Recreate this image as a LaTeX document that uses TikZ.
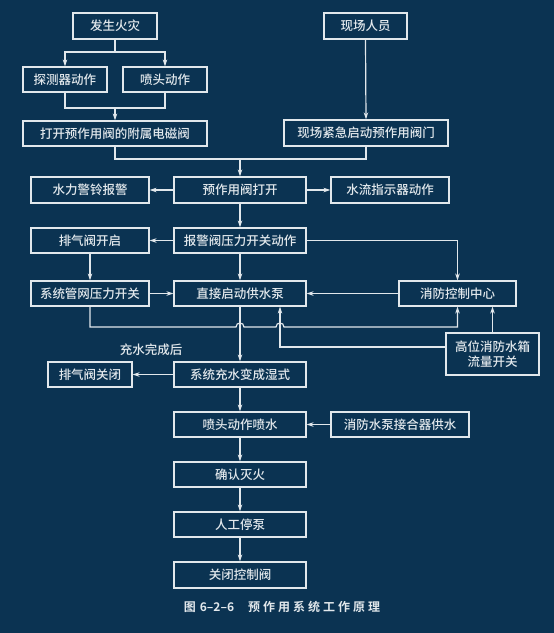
\documentclass[tikz,border=0pt]{standalone}
\usepackage{fontspec}
\setmainfont{Noto Sans CJK SC}
\newfontfamily\cjk{Noto Sans CJK SC}[UprightFont={* Medium},BoldFont={* Bold}]
\usetikzlibrary{arrows.meta}
\definecolor{bg}{RGB}{11,51,82}
\definecolor{ln}{RGB}{226,232,236}
\begin{document}
\begin{tikzpicture}[x=1pt,y=-1pt,
  box/.style={draw=ln,line width=1.2pt,text=ln,font=\cjk\fontsize{12.5}{14}\selectfont,
    minimum height=25pt,inner sep=0pt,align=center},
  con/.style={draw=ln,line width=1.2pt},
  arr/.style={con,-{Stealth[length=7pt,width=4.5pt]}}]
\fill[bg] (0,0) rectangle (554,633);
\useasboundingbox (0,0) rectangle (554,633);
% nodes
\node[box,minimum width=84pt,minimum height=26pt] (fire) at (115,26) {发生火灾};
\node[box,minimum width=84pt] (det) at (65,79.5) {探测器动作};
\node[box,minimum width=84pt] (spr) at (165,79.5) {喷头动作};
\node[box,minimum width=184pt] (sol) at (115,133.5) {打开预作用阀的附属电磁阀};
\node[box,minimum width=83pt,minimum height=26pt] (staff) at (365.5,26) {现场人员};
\node[box,minimum width=164pt,minimum height=26pt] (man) at (366,133) {现场紧急启动预作用阀门};
\node[box,minimum width=132pt,minimum height=26pt] (open) at (240,190) {预作用阀打开};
\node[box,minimum width=118pt,minimum height=26pt] (bell) at (90,190) {水力警铃报警};
\node[box,minimum width=118pt,minimum height=26pt] (flow) at (390,190) {水流指示器动作};
\node[box,minimum width=132pt] (psw) at (240,240.5) {报警阀压力开关动作};
\node[box,minimum width=118pt] (vent) at (90,240.5) {排气阀开启};
\node[box,minimum width=118pt] (net) at (90,293.5) {系统管网压力开关};
\node[box,minimum width=132pt] (pump) at (240,293.5) {直接启动供水泵};
\node[box,minimum width=117pt] (ctrl) at (457.5,293.5) {消防控制中心};
\node[box,minimum width=93pt,minimum height=42pt,font=\cjk\fontsize{12.5}{15.5}\selectfont] (tank) at (492.5,354) {高位消防水箱\\流量开关};
\node[box,minimum width=132pt] (wet) at (240,374.5) {系统充水变成湿式};
\node[box,minimum width=84pt] (ventc) at (90,374.5) {排气阀关闭};
\node[text=ln,font=\cjk\fontsize{12.5}{14}\selectfont,inner sep=0pt] (lbl) at (151,350) {充水完成后};
\node[box,minimum width=132pt] (spray) at (240,424.5) {喷头动作喷水};
\node[box,minimum width=138pt] (conn) at (400,424.5) {消防水泵接合器供水};
\node[box,minimum width=132pt] (conf) at (240,474.5) {确认灭火};
\node[box,minimum width=132pt,minimum height=25pt] (stop) at (240,524.5) {人工停泵};
\node[box,minimum width=132pt,minimum height=26pt] (close) at (240,575) {关闭控制阀};
\node[text=ln,font=\cjk\bfseries\fontsize{12}{14}\selectfont,inner sep=0pt] (cap) at (282,607)
  {图\hspace{4pt}6–2–6\hspace{14pt}预\hspace{3pt}作\hspace{3pt}用\hspace{3pt}系\hspace{3pt}统\hspace{3pt}工\hspace{3pt}作\hspace{3pt}原\hspace{3pt}理};
% coordinates
\coordinate (b1) at (115,52);
\coordinate (m1) at (115,108);
\coordinate (m2) at (240,159);
\coordinate (t1) at (446,347);
% connectors
\draw[con] (fire.south) -- (b1);
\draw[arr] (b1) -| (det.north);
\draw[arr] (b1) -| (spr.north);
\draw[con] (det.south) |- (m1);
\draw[con] (spr.south) |- (m1);
\draw[arr] (m1) -- (sol.north);
\draw[arr] (staff.south) -- (man.north);
\draw[con] (sol.south) |- (m2);
\draw[con] (man.south) |- (m2);
\draw[arr] (m2) -- (open.north);
\draw[arr] (open.west) -- (bell.east);
\draw[arr] (open.east) -- (flow.west);
\draw[arr] (open.south) -- (psw.north);
\draw[arr] (psw.west) -- (vent.east);
\draw[arr] (psw.east) -| (ctrl.north);
\draw[arr] (vent.south) -- (net.north);
\draw[arr] (psw.south) -- (pump.north);
\draw[arr] (net.east) -- (pump.west);
\draw[arr] (ctrl.west) -- (pump.east);
\draw[arr] (pump.south) -- (wet.north);
\draw[arr] (net.south) -- (90,327) -- (236,327)
   .. controls (236,321.7) and (244,321.7) .. (244,327) -- (276,327)
   .. controls (276,321.7) and (284,321.7) .. (284,327) -| (ctrl.south);
\draw[arr] (t1) -| ([xshift=40pt]pump.south);
\draw[arr] (tank.north) -- (tank.north |- ctrl.south);
\draw[arr] (wet.west) -- (ventc.east);
\draw[arr] (wet.south) -- (spray.north);
\draw[arr] (conn.west) -- (spray.east);
\draw[arr] (spray.south) -- (conf.north);
\draw[arr] (conf.south) -- (stop.north);
\draw[arr] (stop.south) -- (close.north);
\end{tikzpicture}
\end{document}
